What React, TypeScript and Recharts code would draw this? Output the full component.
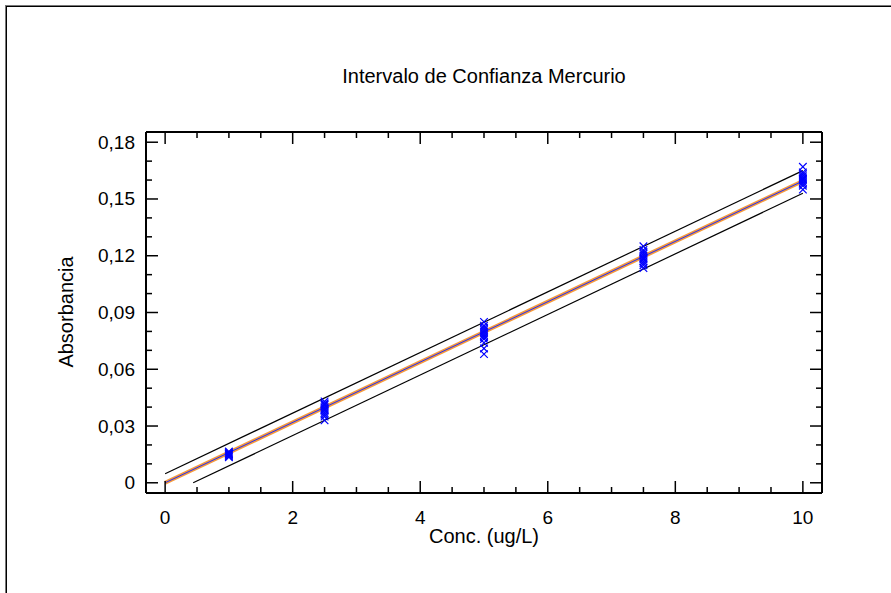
import React from 'react';
import { ScatterChart, Scatter, XAxis, YAxis } from 'recharts';

// Replicate absorbance readings per concentration level (ug/L)
const abs1 = [0.0135, 0.014, 0.0145, 0.015, 0.0152, 0.0155, 0.016, 0.0165];
const abs25 = [0.033, 0.035, 0.036, 0.037, 0.038, 0.0385, 0.039, 0.04, 0.041, 0.0415, 0.042, 0.043];
const abs5 = [0.068, 0.071, 0.074, 0.076, 0.077, 0.078, 0.079, 0.08, 0.081, 0.082, 0.083, 0.085];
const abs75 = [0.1135, 0.115, 0.116, 0.117, 0.118, 0.1185, 0.119, 0.12, 0.121, 0.122, 0.123, 0.125];
const abs10 = [0.155, 0.157, 0.158, 0.159, 0.16, 0.1605, 0.161, 0.162, 0.163, 0.164, 0.167];

// Fitted line and confidence band end points
const fitLine = [
  { x: 0, y: 0 },
  { x: 10, y: 0.1595 },
];
const upperBand = [
  { x: 0, y: 0.0048 },
  { x: 10, y: 0.165 },
];
const lowerBand = [
  { x: 0.44, y: 0 },
  { x: 10, y: 0.153 },
];

const xTicks = [0, 0.5, 1, 1.5, 2, 2.5, 3, 3.5, 4, 4.5, 5, 5.5, 6, 6.5, 7, 7.5, 8, 8.5, 9, 9.5, 10];
const xLabels = [0, 2, 4, 6, 8, 10];
const yTicks = [0, 0.01, 0.02, 0.03, 0.04, 0.05, 0.06, 0.07, 0.08, 0.09, 0.1, 0.11, 0.12, 0.13, 0.14, 0.15, 0.16, 0.17, 0.18];
const yLabels = [0, 0.03, 0.06, 0.09, 0.12, 0.15, 0.18];

const points = [
  ...abs1.map((y) => ({ x: 1, y })),
  ...abs25.map((y) => ({ x: 2.5, y })),
  ...abs5.map((y) => ({ x: 5, y })),
  ...abs75.map((y) => ({ x: 7.5, y })),
  ...abs10.map((y) => ({ x: 10, y })),
];

const FONT = '"Liberation Sans", Arial, sans-serif';
const FS_TICK = 19;
const FS_LABEL = 20;
const MAJ = 12;
const MIN = 6;

const isMajorX = (v: number) => xLabels.some((l) => Math.abs(l - v) < 1e-6);
const isMajorY = (v: number) => yLabels.some((l) => Math.abs(l - v) < 1e-6);
const fmtY = (v: number) => (v === 0 ? '0' : v.toFixed(2).replace('.', ','));

const BottomTick = (props: any) => {
  const { x, y, payload } = props;
  const major = isMajorX(payload.value);
  return (
    <g>
      <line x1={x} y1={y} x2={x} y2={y - (major ? MAJ : MIN)} stroke="#000" strokeWidth={1.5} />
      {major && (
        <text x={x} y={y + 24} textAnchor="middle" dominantBaseline="central" fontFamily={FONT} fontSize={FS_TICK} fill="#000">
          {String(payload.value)}
        </text>
      )}
    </g>
  );
};

const TopTick = (props: any) => {
  const { x, y, payload } = props;
  const major = isMajorX(payload.value);
  return <line x1={x} y1={y} x2={x} y2={y + (major ? MAJ : MIN)} stroke="#000" strokeWidth={1.5} />;
};

const LeftTick = (props: any) => {
  const { x, y, payload } = props;
  const major = isMajorY(payload.value);
  return (
    <g>
      <line x1={x} y1={y} x2={x + (major ? MAJ : MIN)} y2={y} stroke="#000" strokeWidth={1.5} />
      {major && (
        <text x={x - 11} y={y} textAnchor="end" dominantBaseline="central" fontFamily={FONT} fontSize={FS_TICK} fill="#000">
          {fmtY(payload.value)}
        </text>
      )}
    </g>
  );
};

const RightTick = (props: any) => {
  const { x, y, payload } = props;
  const major = isMajorY(payload.value);
  return <line x1={x} y1={y} x2={x - (major ? MAJ : MIN)} y2={y} stroke="#000" strokeWidth={1.5} />;
};

const XMark = (props: any) => {
  const { cx, cy } = props;
  const s = 3.8;
  return (
    <path
      d={`M${cx - s},${cy - s}L${cx + s},${cy + s}M${cx - s},${cy + s}L${cx + s},${cy - s}`}
      stroke="#0000ff"
      strokeWidth={1.2}
      fill="none"
    />
  );
};

const NoShape = () => <g />;

const axisLine = { stroke: '#000', strokeWidth: 2 };

export default function App() {
  return (
    <div style={{ position: 'absolute', left: 0, top: 0, width: 891, height: 593, background: '#fff', overflow: 'hidden' }}>
      <div style={{ position: 'absolute', left: 5, top: 5, width: 1000, height: 1000, borderTop: '1px solid #777', borderLeft: '1px solid #777' }} />
      <div style={{ position: 'absolute', left: 6, top: 6, width: 1000, height: 1000, borderTop: '1px solid #000', borderLeft: '1px solid #000' }} />
      <div style={{ position: 'absolute', left: 0, top: 0 }}>
        <ScatterChart width={891} height={593} margin={{ top: 122, right: 59, bottom: 70, left: 106 }}>
          <XAxis
            xAxisId="b"
            type="number"
            dataKey="x"
            domain={[-0.3, 10.3]}
            ticks={xTicks}
            interval={0}
            allowDataOverflow
            height={30}
            tickSize={0}
            tickMargin={0}
            tickLine={false}
            axisLine={axisLine}
            tick={<BottomTick />}
          />
          <XAxis
            xAxisId="t"
            orientation="top"
            type="number"
            dataKey="x"
            domain={[-0.3, 10.3]}
            ticks={xTicks}
            interval={0}
            allowDataOverflow
            height={10}
            tickSize={0}
            tickMargin={0}
            tickLine={false}
            axisLine={axisLine}
            tick={<TopTick />}
          />
          <YAxis
            yAxisId="l"
            type="number"
            dataKey="y"
            domain={[-0.0054, 0.1854]}
            ticks={yTicks}
            interval={0}
            allowDataOverflow
            width={40}
            tickSize={0}
            tickMargin={0}
            tickLine={false}
            axisLine={axisLine}
            tick={<LeftTick />}
          />
          <YAxis
            yAxisId="r"
            orientation="right"
            type="number"
            dataKey="y"
            domain={[-0.0054, 0.1854]}
            ticks={yTicks}
            interval={0}
            allowDataOverflow
            width={10}
            tickSize={0}
            tickMargin={0}
            tickLine={false}
            axisLine={axisLine}
            tick={<RightTick />}
          />
          <Scatter xAxisId="b" yAxisId="l" data={upperBand} line={{ stroke: '#000', strokeWidth: 1.2 }} lineType="joint" shape={NoShape} isAnimationActive={false} />
          <Scatter xAxisId="b" yAxisId="l" data={lowerBand} line={{ stroke: '#000', strokeWidth: 1.2 }} lineType="joint" shape={NoShape} isAnimationActive={false} />
          <Scatter xAxisId="b" yAxisId="l" data={fitLine} line={{ stroke: '#f59a3c', strokeWidth: 4 }} lineType="joint" shape={NoShape} isAnimationActive={false} />
          <Scatter xAxisId="b" yAxisId="l" data={fitLine} line={{ stroke: '#2030ff', strokeWidth: 1 }} lineType="joint" shape={NoShape} isAnimationActive={false} />
          <Scatter xAxisId="b" yAxisId="l" data={points} shape={XMark} isAnimationActive={false} />
        </ScatterChart>
      </div>
      <svg width={891} height={593} style={{ position: 'absolute', left: 0, top: 0, pointerEvents: 'none' }}>
        <text x={484} y={76} textAnchor="middle" dominantBaseline="central" fontFamily={FONT} fontSize={FS_LABEL} fill="#000">
          Intervalo de Confianza Mercurio
        </text>
        <text x={484} y={536} textAnchor="middle" dominantBaseline="central" fontFamily={FONT} fontSize={FS_LABEL} fill="#000">
          Conc. (ug/L)
        </text>
        <text x={66} y={312} textAnchor="middle" dominantBaseline="central" fontFamily={FONT} fontSize={FS_LABEL} fill="#000" transform="rotate(-90 66 312)">
          Absorbancia
        </text>
      </svg>
    </div>
  );
}
